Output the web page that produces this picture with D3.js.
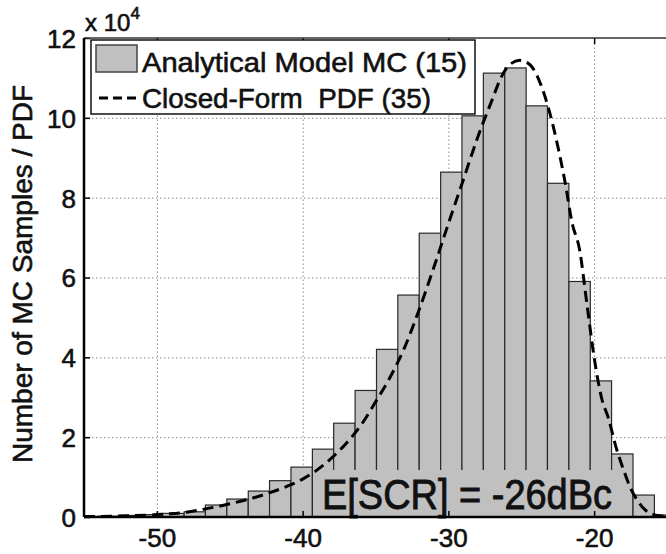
<!DOCTYPE html>
<meta charset="utf-8">
<head>
  <style>
    body { margin: 0; background: #fff; }
    svg { display: block; font-family: 'Liberation Sans', Arial, sans-serif; }
    svg text { fill: #111; stroke: #111; stroke-width: 0.6px; }
    .grid line { stroke: #8c8c8c; stroke-width: 1; stroke-dasharray: 1.5,2.5; }
    .grid path { display: none; }
    .axis path { display: none; }
    .axis text { font-size: 26px; }
  </style>
</head>
<body>
<svg width="666" height="554"></svg>

<script src="https://d3js.org/d3.v7.min.js"></script>
<script>

// histogram bins (left edge, dB) and counts (x 10^4)
var binWidth = 1.467;
var binLeft = [-55.47, -54.0, -52.53, -51.07, -49.6, -48.13, -46.67, -45.2, -43.73, -42.27,
               -40.8, -39.33, -37.87, -36.4, -34.93, -33.47, -32.0, -30.53, -29.07, -27.6,
               -26.13, -24.67, -23.2, -21.73, -20.27, -18.8, -17.33, -15.87];
var binCount = [0.01, 0.02, 0.04, 0.06, 0.09, 0.13, 0.30, 0.45, 0.65, 0.91,
                1.25, 1.70, 2.35, 3.17, 4.20, 5.56, 7.11, 8.64, 10.05, 11.12,
                11.25, 10.30, 8.36, 5.90, 3.41, 1.58, 0.55, 0.05];

// closed-form pdf (dashed)
var pdfX = [-55, -52, -50, -48, -47, -45, -43, -41, -40, -39, -38, -37, -36, -35, -34, -33, -32,
            -31, -30, -29, -28, -27, -26.4, -25.8, -25.1, -24.4, -23.7, -23.1, -22.5, -22, -21.5,
            -21, -20.5, -20, -19.5, -19, -18.5, -18, -17.5, -17, -16.5, -16, -15.5, -15];
var pdfY = [0.01, 0.03, 0.06, 0.12, 0.18, 0.33, 0.52, 0.78, 0.95, 1.18, 1.48, 1.85, 2.30, 2.88, 3.50, 4.25, 5.20,
            6.25, 7.35, 8.42, 9.50, 10.45, 11.0, 11.33, 11.44, 11.33, 10.87, 10.2, 9.3, 8.4, 7.35,
            6.7, 5.35, 4.0, 3.0, 2.45, 1.75, 1.2, 0.72, 0.4, 0.18, 0.07, 0.03, 0.02];

var xTicks = [-50, -40, -30, -20];
var yTicks = [0, 2, 4, 6, 8, 10, 12];

var legendLabels = ["Analytical Model MC (15)", "Closed-Form  PDF (35)"];
var note = "E[SCR] = -26dBc";

var pL = 84, pR = 667, pT = 38, pB = 517;

var svg = d3.select("svg");

var x = d3.scaleLinear().domain([-55, -15]).range([pL, pR]);
var y = d3.scaleLinear().domain([0, 12]).range([pB, pT]);

var plot = svg.append("g");
plot.append("clipPath").attr("id", "clip")
  .append("rect").attr("x", pL).attr("y", pT).attr("width", pR - pL).attr("height", pB - pT);

// grid
plot.append("g")
    .attr("class", "grid")
    .attr("transform", "translate(0," + pB + ")")
    .call(d3.axisBottom(x).tickValues(xTicks).tickSize(-(pB - pT)).tickFormat(""));
plot.append("g")
    .attr("class", "grid")
    .attr("transform", "translate(" + pL + ",0)")
    .call(d3.axisLeft(y).tickValues([2, 4, 6, 8, 10]).tickSize(-(pR - pL)).tickFormat(""));

var data = binLeft.map(function(d, i) { return {x0: d, x1: d + binWidth, v: binCount[i]}; });

// bars
plot.append("g").attr("clip-path", "url(#clip)")
  .selectAll("rect")
  .data(data)
  .enter().append("rect")
    .attr("x", function(d) { return x(d.x0); })
    .attr("width", function(d) { return x(d.x1) - x(d.x0); })
    .attr("y", function(d) { return y(d.v); })
    .attr("height", function(d) { return pB - y(d.v); })
    .style("fill", "#c0c0c0")
    .style("stroke", "#2a2a2a")
    .style("stroke-width", 1.2);

// text box for the mean
plot.append("rect")
    .attr("x", 318).attr("y", 470).attr("width", 314).attr("height", pB - 470)
    .style("fill", "#c0c0c0");

var line = d3.line()
    .x(function(d) { return x(d[0]); })
    .y(function(d) { return y(d[1]); })
    .curve(d3.curveMonotoneX);

plot.append("path")
    .datum(pdfX.map(function(d, i) { return [d, pdfY[i]]; }))
    .attr("clip-path", "url(#clip)")
    .attr("d", line)
    .style("fill", "none")
    .style("stroke", "#000")
    .style("stroke-width", 3)
    .style("stroke-dasharray", "11,6");

plot.append("text")
    .attr("x", 322).attr("y", 509)
    .attr("textLength", 290).attr("lengthAdjust", "spacingAndGlyphs")
    .style("font-size", "43px")
    .style("stroke-width", "0.9px")
    .text(note);

// axes
var xAxis = svg.append("g")
    .attr("class", "axis")
    .attr("transform", "translate(0," + pB + ")")
    .call(d3.axisBottom(x).tickValues(xTicks).tickSizeInner(-6).tickSizeOuter(0).tickPadding(12)
      .tickFormat(function(d) { return String(d); }));
xAxis.selectAll("line").style("stroke", "#000").style("stroke-width", 1.5);

svg.append("g")
    .attr("transform", "translate(0," + pT + ")")
    .call(d3.axisTop(x).tickValues(xTicks).tickSizeInner(-6).tickSizeOuter(0).tickFormat(""))
    .call(function(g) { g.select("path").remove(); g.selectAll("line").style("stroke", "#000").style("stroke-width", 1.5); });

var yAxis = svg.append("g")
    .attr("class", "axis")
    .attr("transform", "translate(" + pL + ",0)")
    .call(d3.axisLeft(y).tickValues(yTicks).tickSizeInner(-6).tickSizeOuter(0).tickPadding(8));
yAxis.selectAll("line").style("stroke", "#000").style("stroke-width", 1.5);
yAxis.selectAll("text").attr("dy", "0.36em");

// frame
svg.append("line").attr("x1", pL).attr("x2", pR).attr("y1", pT).attr("y2", pT)
    .style("stroke", "#333").style("stroke-width", 1.5);
svg.append("line").attr("x1", pL).attr("x2", pR).attr("y1", pB).attr("y2", pB)
    .style("stroke", "#000").style("stroke-width", 2.5);
svg.append("line").attr("x1", pL).attr("x2", pL).attr("y1", pT).attr("y2", pB)
    .style("stroke", "#000").style("stroke-width", 2.5);

// exponent
var ex = svg.append("text").attr("x", 85).attr("y", 31).style("font-size", "24px");
ex.append("tspan").text("x 10");
ex.append("tspan").attr("dy", -12).style("font-size", "17px").text("4");

// y title
svg.append("text")
    .attr("transform", "translate(32,274) rotate(-90)")
    .style("text-anchor", "middle")
    .style("font-size", "28px")
    .text("Number of MC Samples / PDF");

// legend
var lg = svg.append("g");
lg.append("rect").attr("x", 91).attr("y", 40).attr("width", 384).attr("height", 74)
    .style("fill", "#fff").style("stroke", "#111").style("stroke-width", 1.5);
lg.append("rect").attr("x", 96).attr("y", 45).attr("width", 41).attr("height", 27)
    .style("fill", "#c0c0c0").style("stroke", "#444").style("stroke-width", 1.5);
lg.append("line").attr("x1", 99).attr("x2", 139).attr("y1", 98).attr("y2", 98)
    .style("stroke", "#000").style("stroke-width", 3).style("stroke-dasharray", "9,5");
lg.append("text").attr("x", 142).attr("y", 72)
    .attr("textLength", 325).attr("lengthAdjust", "spacingAndGlyphs")
    .style("font-size", "28px").text(legendLabels[0]);
lg.append("text").attr("x", 142).attr("y", 108)
    .attr("textLength", 289).attr("lengthAdjust", "spacingAndGlyphs")
    .style("white-space", "pre")
    .style("font-size", "28px").text(legendLabels[1]);

</script>
</body>
